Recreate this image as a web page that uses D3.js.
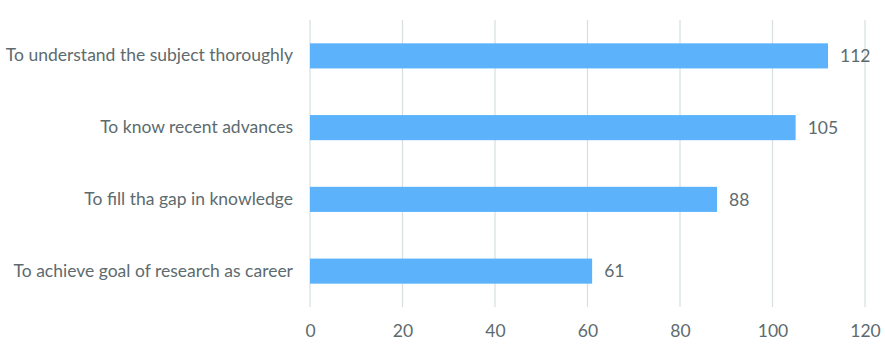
<!DOCTYPE html>
<html>
<head>
<meta charset="utf-8">
<script src="https://cdn.jsdelivr.net/npm/d3@7"></script>
<style>
  html, body { margin: 0; padding: 0; background: #ffffff; }
  svg { display: block; }
  text { font-family: Lato, "Open Sans", sans-serif; fill: #5d6b6e; }
</style>
</head>
<body>
<svg id="chart" width="885" height="347"></svg>
<script>
// Reasons for reading, number of respondents
const categories = [
  "To understand the subject thoroughly",
  "To know recent advances",
  "To fill tha gap in knowledge",
  "To achieve goal of research as career"
];
const values = [112, 105, 88, 61];
const xTicks = [0, 20, 40, 60, 80, 100, 120];

const width = 885, height = 347;
const margin = { top: 20, right: 20, bottom: 40, left: 310 };
const fontSize = 17.5;

const svg = d3.select("#chart");

const x = d3.scaleLinear()
  .domain([0, 120])
  .range([margin.left, width - margin.right]);

const y = d3.scaleBand()
  .domain(categories)
  .range([margin.top, height - margin.bottom])
  .paddingInner(0.65)
  .paddingOuter(0.325);

// vertical gridlines
svg.append("g")
  .selectAll("line")
  .data(xTicks)
  .join("line")
  .attr("x1", d => x(d))
  .attr("x2", d => x(d))
  .attr("y1", margin.top)
  .attr("y2", height - margin.bottom)
  .attr("stroke", "#d9e0e1")
  .attr("stroke-width", 1.3);

// x axis tick labels
const xAxis = d3.axisBottom(x)
  .tickValues(xTicks)
  .tickSize(0)
  .tickPadding(0);

svg.append("g")
  .attr("transform", `translate(0,${height - margin.bottom + 18})`)
  .call(xAxis)
  .call(g => g.select(".domain").remove())
  .call(g => g.selectAll("text")
    .attr("font-size", fontSize)
    .attr("font-family", "Lato, sans-serif")
    .attr("fill", "#5d6b6e"));

// bars
svg.append("g")
  .selectAll("rect")
  .data(values)
  .join("rect")
  .attr("x", x(0))
  .attr("y", (d, i) => y(categories[i]))
  .attr("width", d => x(d) - x(0))
  .attr("height", y.bandwidth())
  .attr("fill", "#5cb3fc");

// category labels
const yAxis = d3.axisLeft(y).tickSize(0).tickPadding(17);
svg.append("g")
  .attr("transform", `translate(${margin.left},0)`)
  .call(yAxis)
  .call(g => g.select(".domain").remove())
  .call(g => g.selectAll("text")
    .attr("font-size", fontSize)
    .attr("font-family", "Lato, sans-serif")
    .attr("fill", "#5d6b6e"));

// value labels
svg.append("g")
  .selectAll("text")
  .data(values)
  .join("text")
  .attr("x", d => x(d) + 12)
  .attr("y", (d, i) => y(categories[i]) + y.bandwidth() / 2)
  .attr("dy", "0.35em")
  .attr("font-size", fontSize)
  .text(d => d);
</script>
</body>
</html>
